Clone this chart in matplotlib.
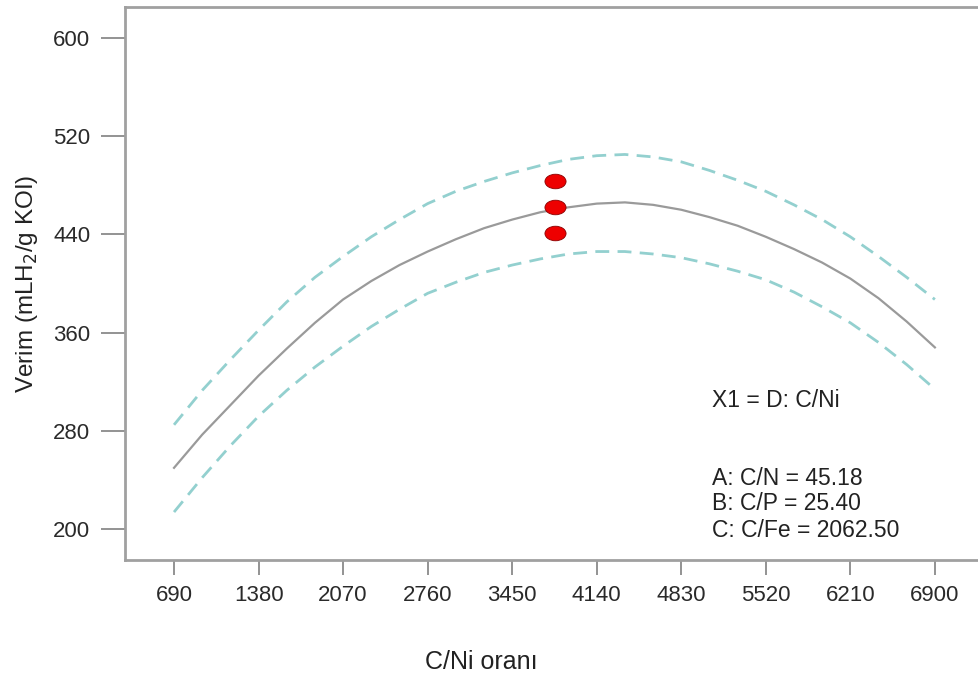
import matplotlib.pyplot as plt
from matplotlib.markers import MarkerStyle
from matplotlib.transforms import Affine2D

# C/Ni orani (x) ve tahmin egrileri
cni = [690, 920, 1150, 1380, 1610, 1840, 2070, 2300, 2530, 2760,
       2990, 3220, 3450, 3680, 3910, 4140, 4370, 4600, 4830, 5060,
       5290, 5520, 5750, 5980, 6210, 6440, 6670, 6900]
tahmin = [250, 277, 301, 325, 347, 368, 387, 402, 415, 426,
          436, 445, 452, 458, 462, 465, 466, 464, 460, 454,
          447, 438, 428, 417, 404, 388, 369, 348]
ust_sinir = [285, 313, 338, 362, 385, 405, 422, 438, 452, 465,
             475, 483, 490, 496, 501, 504, 505, 503, 499, 492,
             484, 475, 464, 452, 438, 422, 405, 387]
alt_sinir = [214, 242, 268, 292, 313, 332, 349, 365, 379, 392,
             401, 409, 415, 420, 424, 426, 426, 424, 421, 416,
             410, 403, 393, 381, 368, 352, 334, 314]

# deney noktalari
nokta_x = [3800, 3800, 3800]
nokta_y = [483, 462, 441]

xticks = [690, 1380, 2070, 2760, 3450, 4140, 4830, 5520, 6210, 6900]
yticks = [200, 280, 360, 440, 520, 600]

plt.rcParams['font.family'] = ['Liberation Sans', 'DejaVu Sans']

fig = plt.figure(figsize=(9.79, 6.86), dpi=100)
ax = fig.add_axes([0.1277, 0.1837, 0.8723, 0.8061])

ax.plot(cni, tahmin, color='#9a9a9a', linewidth=1.6)
ax.plot(cni, ust_sinir, color='#93d0cf', linewidth=2, dashes=(5, 3))
ax.plot(cni, alt_sinir, color='#93d0cf', linewidth=2, dashes=(5, 3))

elips = MarkerStyle('o', transform=Affine2D().scale(1.45, 1.0))
ax.scatter(nokta_x, nokta_y, marker=elips, s=110, color='#ee0000',
           edgecolors='#8a0000', linewidths=0.6, zorder=3)

ax.set_xlim(290, 7260)
ax.set_ylim(175, 625)
ax.set_xticks(xticks)
ax.set_yticks(yticks)
ax.tick_params(width=1.3, color='#8a8a8a', labelsize=16, labelcolor='#2a2a2a')
ax.tick_params(axis='y', length=17, pad=8)
ax.tick_params(axis='x', length=11, pad=7)

for side in ['left', 'bottom', 'top']:
    ax.spines[side].set_color('#a0a0a0')
    ax.spines[side].set_linewidth(2)
ax.spines['right'].set_visible(False)

ax.set_ylabel('Verim (mLH$_2$/g KOI)', fontsize=17.5, color='#222222')
ax.yaxis.set_label_coords(-0.10, 0.5)
ax.set_xlabel('C/Ni oranı', fontsize=18, color='#222222')
ax.xaxis.set_label_coords(0.417, -0.163)

ax.text(0.687, 0.289, 'X1 = D: C/Ni', transform=ax.transAxes,
        fontsize=16.5, va='center', color='#222222')
ax.text(0.687, 0.148, 'A: C/N = 45.18', transform=ax.transAxes,
        fontsize=16.5, va='center', color='#222222')
ax.text(0.687, 0.103, 'B: C/P = 25.40', transform=ax.transAxes,
        fontsize=16.5, va='center', color='#222222')
ax.text(0.687, 0.054, 'C: C/Fe = 2062.50', transform=ax.transAxes,
        fontsize=16.5, va='center', color='#222222')

fig.savefig('out.png', dpi=100)
